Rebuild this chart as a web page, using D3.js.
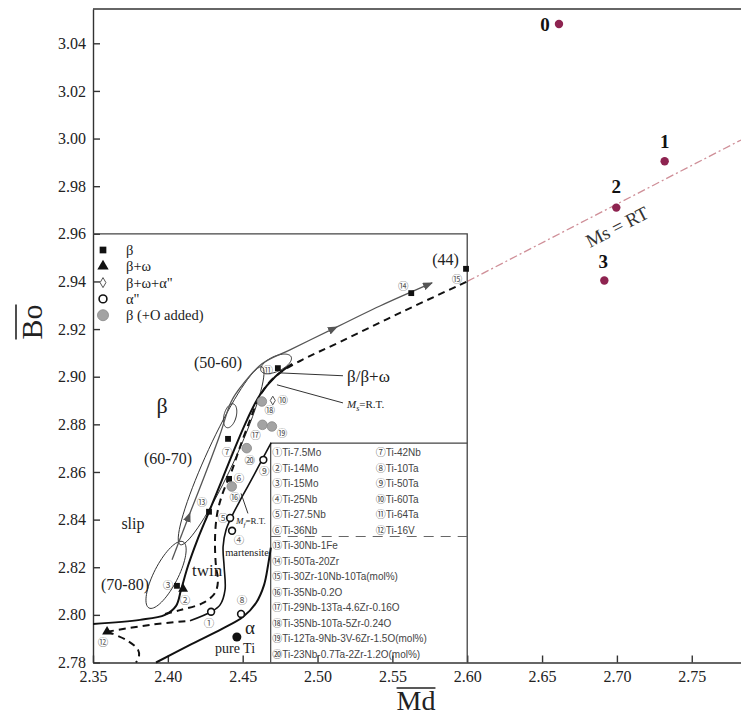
<!DOCTYPE html>
<html>
<head>
<meta charset="utf-8">
<script src="https://cdn.jsdelivr.net/npm/d3@7"></script>
<style>
  body { margin: 0; background: #fff; }
  svg text { font-family: "Liberation Serif", "Times New Roman", serif; }
  svg text.circ, svg tspan.circ { font-family: "Noto Sans CJK SC", "Noto Sans CJK JP", sans-serif; }
  svg tspan.sans { font-family: "Liberation Sans", Arial, sans-serif; }
</style>
</head>
<body>
<svg id="chart" width="741" height="717"></svg>
<script>
// ---- data (Md, Bo) ----
var xTicks = [2.35, 2.40, 2.45, 2.50, 2.55, 2.60, 2.65, 2.70, 2.75];
var yTicks = [2.78, 2.80, 2.82, 2.84, 2.86, 2.88, 2.90, 2.92, 2.94, 2.96, 2.98, 3.00, 3.02, 3.04];

// alloys of this work
var alloyIds = ['0', '1', '2', '3'];
var alloyMd = [2.6613, 2.7319, 2.6996, 2.6916];
var alloyBo = [3.0481, 2.9905, 2.9710, 2.9404];

// Ms = RT extension
var msExtMd = [2.600, 2.7829];
var msExtBo = [2.9400, 2.9994];

// inset (literature) alloys
var refIds = [1, 2, 3, 4, 5, 6, 7, 8, 9, 10, 11, 12, 13, 14, 15, 16, 17, 18, 19, 20];
var refType = ['ring', 'tri', 'sq', 'ring', 'ring', 'sq', 'sq', 'ring', 'ring', 'dia',
               'sq', 'tri', 'sq', 'sq', 'sq', 'gray', 'gray', 'gray', 'gray', 'gray'];
var refMd = [2.4289, 2.4102, 2.4061, 2.4429, 2.4416, 2.4409, 2.4402, 2.4489, 2.4638, 2.4701,
             2.4735, 2.3594, 2.4275, 2.5626, 2.5992, 2.4427, 2.4632, 2.4628, 2.4695, 2.4527];
var refBo = [2.8013, 2.8109, 2.8122, 2.8353, 2.8407, 2.8571, 2.8739, 2.8004, 2.8651, 2.8900,
             2.9036, 2.7929, 2.8433, 2.9351, 2.9453, 2.8539, 2.8798, 2.8896, 2.8791, 2.8700];
var refNames = ['Ti-7.5Mo', 'Ti-14Mo', 'Ti-15Mo', 'Ti-25Nb', 'Ti-27.5Nb', 'Ti-36Nb', 'Ti-42Nb',
                'Ti-10Ta', 'Ti-50Ta', 'Ti-60Ta', 'Ti-64Ta', 'Ti-16V', 'Ti-30Nb-1Fe', 'Ti-50Ta-20Zr',
                'Ti-30Zr-10Nb-10Ta(mol%)', 'Ti-35Nb-0.2O', 'Ti-29Nb-13Ta-4.6Zr-0.16O',
                'Ti-35Nb-10Ta-5Zr-0.24O', 'Ti-12Ta-9Nb-3V-6Zr-1.5O(mol%)', 'Ti-23Nb-0.7Ta-2Zr-1.2O(mol%)'];
var pureTi = [2.4461, 2.7907];

// boundary lines of the Bo-Md map
var slipTwinLine = [[2.350, 2.7962], [2.3814, 2.7979], [2.3981, 2.8000], [2.4055, 2.8038], [2.4088, 2.8105],
                    [2.4135, 2.8206], [2.4195, 2.8311], [2.4275, 2.8433], [2.4362, 2.8567], [2.4429, 2.8672],
                    [2.4529, 2.8819], [2.4616, 2.8924], [2.4717, 2.9000], [2.4830, 2.9054]];
var msLine = [[2.3981, 2.8004], [2.4081, 2.8020], [2.4235, 2.8050], [2.4315, 2.8092], [2.4335, 2.8146],
              [2.4322, 2.8201], [2.4315, 2.8314], [2.4328, 2.8419], [2.4362, 2.8503], [2.4429, 2.8608],
              [2.4482, 2.8705], [2.4549, 2.8818], [2.4602, 2.8902], [2.4662, 2.8965], [2.4749, 2.9016],
              [2.4883, 2.9066], [2.5150, 2.9146], [2.5551, 2.9268], [2.600, 2.9400]];
var v16Dash = [[2.3594, 2.7929], [2.3881, 2.7958], [2.4148, 2.7975]];
var v16Loop = [[2.3594, 2.7929], [2.3721, 2.7895], [2.3801, 2.7853], [2.3807, 2.7824], [2.3787, 2.7800]];
var mfLine = [[2.4148, 2.7975], [2.4289, 2.8013], [2.4349, 2.8042], [2.4382, 2.8105], [2.4376, 2.8202],
              [2.4369, 2.8286], [2.4389, 2.8357], [2.4429, 2.8416], [2.4496, 2.8496], [2.4576, 2.8588],
              [2.4636, 2.8659], [2.4690, 2.8722]];
var alphaLine = [[2.3921, 2.7800], [2.4148, 2.7874], [2.4362, 2.7941], [2.4503, 2.7992], [2.4590, 2.8051],
                 [2.4643, 2.8126], [2.4670, 2.8210], [2.4688, 2.8282]];
var trendLine = [[2.4028, 2.8231], [2.4148, 2.8428], [2.4248, 2.8588], [2.4348, 2.8756], [2.4422, 2.8894],
                 [2.4482, 2.8953], [2.4629, 2.9054], [2.4816, 2.9113], [2.5130, 2.9209], [2.5417, 2.9297],
                 [2.5765, 2.9394]];
var trendArrowAt = [1, 8, 10];

// modulus regions (GPa): centre, end of long axis, end of short axis
var regionCentre = [[2.3988, 2.8168], [2.4356, 2.8668], [2.4416, 2.8836], [2.4723, 2.9054]];
var regionMajor = [[2.4102, 2.8307], [2.4630, 2.9041], [2.4436, 2.8886], [2.4824, 2.9083]];
var regionMinor = [[2.4059, 2.8145], [2.4440, 2.8642], [2.4456, 2.8831], [2.4743, 2.9025]];

var annoText = ['β', 'slip', 'twin', '(70-80)', '(60-70)', '(50-60)', 'martensite', 'α', 'pure Ti', '(44)'];
var annoMd = [2.3961, 2.3767, 2.4262, 2.3714, 2.4001, 2.4335, 2.4529, 2.4549, 2.4449, 2.5855];
var annoBo = [2.8882, 2.8386, 2.8189, 2.8126, 2.8655, 2.9062, 2.8261, 2.7946, 2.7862, 2.9492];

var legendTypes = ['sq', 'tri', 'dia', 'ring', 'gray'];
var legendLabels = ['β', 'β+ω', 'β+ω+α"', 'α"', 'β (+O added)'];

// ---- layout ----
var annoSize = [22, 16, 17, 16, 16, 16, 10.5, 19, 14, 16];
var refLabelDx = [-2, 2, -9, 7, -7, 10, -1, 1, 1, 10, -10, -4, -7, -8, -9, 3, -7, 8, 10, 3];
var refLabelDy = [12, 11, 0, 10, 0, -1, 13, -14, 11, 0, 2, 11, -9, -7, 10, 11, 11, 9, 7, 12];
var alloyLabelDx = [-14, 0, 0, -1];
var alloyLabelDy = [0, -20, -21, -19];
var insetRight = 2.60, insetTop = 2.96;
var tableLeft = 2.4687, tableTop = 2.8721, tableSplit = 2.8329;

var svg = d3.select('#chart');
var x = d3.scaleLinear().domain([2.35, 2.7829]).range([93, 741]);
var y = d3.scaleLinear().domain([2.78, 3.0544]).range([662.5, 9]);

var smooth = d3.line().x(function(d) { return x(d[0]); }).y(function(d) { return y(d[1]); })
    .curve(d3.curveCatmullRom.alpha(0.5));
var straight = d3.line().x(function(d) { return x(d[0]); }).y(function(d) { return y(d[1]); });

function circled(n) { return String.fromCharCode(0x245F + n); }

svg.append('defs').append('marker')
    .attr('id', 'arrow').attr('viewBox', '0 0 10 8').attr('refX', 9).attr('refY', 4)
    .attr('markerWidth', 10).attr('markerHeight', 8).attr('markerUnits', 'userSpaceOnUse')
    .attr('orient', 'auto')
  .append('path').attr('d', 'M0,0L10,4L0,8Z').attr('fill', '#555');

// ---- axes & frame ----
var gy = svg.append('g').attr('transform', 'translate(' + x(2.35) + ',0)')
    .call(d3.axisLeft(y).tickValues(yTicks).tickFormat(d3.format('.2f'))
        .tickSizeInner(-7).tickSizeOuter(0).tickPadding(7));
var gx = svg.append('g').attr('transform', 'translate(0,' + y(2.78) + ')')
    .call(d3.axisBottom(x).tickValues(xTicks).tickFormat(d3.format('.2f'))
        .tickSizeInner(-7).tickSizeOuter(0).tickPadding(8));
[gx, gy].forEach(function(g) {
    g.attr('font-size', 16);
    g.selectAll('text').attr('fill', '#222')
        .style('font-family', '"Liberation Serif", "Times New Roman", serif');
    g.selectAll('.domain, .tick line').attr('stroke', '#333').attr('stroke-width', 1.4);
});
svg.append('line').attr('x1', x(2.35)).attr('x2', x.range()[1])
    .attr('y1', y.range()[1]).attr('y2', y.range()[1])
    .attr('stroke', '#333').attr('stroke-width', 1.6);

var boG = svg.append('g').attr('transform', 'translate(42,322) rotate(-90)');
var boT = boG.append('text').attr('text-anchor', 'middle').attr('font-size', 30).attr('fill', '#222').text('Bo');
var bb = boT.node().getBBox();
boG.append('line').attr('x1', bb.x).attr('x2', bb.x + bb.width).attr('y1', -26).attr('y2', -26)
    .attr('stroke', '#222').attr('stroke-width', 1.6);

var mdG = svg.append('g').attr('transform', 'translate(416,710)');
var mdT = mdG.append('text').attr('text-anchor', 'middle').attr('font-size', 28).attr('fill', '#222').text('Md');
bb = mdT.node().getBBox();
mdG.append('line').attr('x1', bb.x).attr('x2', bb.x + bb.width).attr('y1', -22).attr('y2', -22)
    .attr('stroke', '#222').attr('stroke-width', 1.6);

// ---- Ms = RT extension + this work ----
svg.append('path').attr('d', straight([[msExtMd[0], msExtBo[0]], [msExtMd[1], msExtBo[1]]]))
    .attr('fill', 'none').attr('stroke', '#cf8f98').attr('stroke-width', 1.3)
    .attr('stroke-dasharray', '8,3,2,3');
var ang = Math.atan2(y(msExtBo[1]) - y(msExtBo[0]), x(msExtMd[1]) - x(msExtMd[0])) * 180 / Math.PI;
svg.append('text')
    .attr('transform', 'translate(' + x(2.7000) + ',' + y(2.9630) + ') rotate(' + ang + ')')
    .attr('text-anchor', 'middle').attr('dy', '0.35em').attr('font-size', 19).attr('fill', '#333')
    .text('Ms = RT');

svg.selectAll('.alloy').data(alloyIds).enter().append('circle')
    .attr('class', 'alloy')
    .attr('cx', function(d, i) { return x(alloyMd[i]); })
    .attr('cy', function(d, i) { return y(alloyBo[i]); })
    .attr('r', 4.2).attr('fill', '#8e2350');
svg.selectAll('.alloy-label').data(alloyIds).enter().append('text')
    .attr('class', 'alloy-label')
    .attr('x', function(d, i) { return x(alloyMd[i]) + alloyLabelDx[i]; })
    .attr('y', function(d, i) { return y(alloyBo[i]) + alloyLabelDy[i]; })
    .attr('dy', '0.35em').attr('text-anchor', 'middle')
    .attr('font-size', 19).attr('font-weight', 'bold').attr('fill', '#111')
    .text(function(d) { return d; });

// ---- inset: Bo-Md map ----
var inset = svg.append('g');
inset.append('path')
    .attr('d', straight([[2.35, insetTop], [insetRight, insetTop], [insetRight, 2.78]]))
    .attr('fill', 'none').attr('stroke', '#444').attr('stroke-width', 1.3);
inset.append('path')
    .attr('d', straight([[tableLeft, 2.78], [tableLeft, tableTop], [insetRight, tableTop]]))
    .attr('fill', 'none').attr('stroke', '#444').attr('stroke-width', 1.2);
inset.append('path')
    .attr('d', straight([[tableLeft, tableSplit], [insetRight, tableSplit]]))
    .attr('stroke', '#666').attr('stroke-width', 1.2).attr('stroke-dasharray', '10,7');

// legend table
var leftIds = [1, 2, 3, 4, 5, 6, 13, 14, 15, 16, 17, 18, 19, 20];
var rightIds = [7, 8, 9, 10, 11, 12];
function tableRow(id, row, colX) {
    var t = inset.append('text').attr('x', colX).attr('y', y(tableTop) + 9.5 + row * 15.5)
        .attr('dy', '0.35em').attr('font-size', 10).attr('fill', '#444');
    t.append('tspan').attr('class', 'circ').attr('font-size', 10).text(circled(id));
    t.append('tspan').attr('class', 'sans').text(refNames[id - 1]);
}
leftIds.forEach(function(id, i) { tableRow(id, i, x(tableLeft) + 1.5); });
rightIds.forEach(function(id, i) { tableRow(id, i, x(tableLeft) + 105); });

// regions
regionCentre.forEach(function(c, i) {
    var cx = x(c[0]), cy = y(c[1]);
    var ax = x(regionMajor[i][0]) - cx, ay = y(regionMajor[i][1]) - cy;
    var bx = x(regionMinor[i][0]) - cx, by = y(regionMinor[i][1]) - cy;
    var pts = d3.range(0, 2 * Math.PI, Math.PI / 36).map(function(t) {
        return [cx + Math.cos(t) * ax + Math.sin(t) * bx, cy + Math.cos(t) * ay + Math.sin(t) * by];
    });
    inset.append('path').attr('d', d3.line().curve(d3.curveLinearClosed)(pts))
        .attr('fill', 'none').attr('stroke', '#333').attr('stroke-width', 1);
});

// boundary lines
inset.append('path').attr('d', smooth(slipTwinLine)).attr('fill', 'none')
    .attr('stroke', '#111').attr('stroke-width', 2);
inset.append('path').attr('d', smooth(alphaLine)).attr('fill', 'none')
    .attr('stroke', '#111').attr('stroke-width', 2);
inset.append('path').attr('d', smooth(mfLine)).attr('fill', 'none')
    .attr('stroke', '#111').attr('stroke-width', 1.6);
[msLine, v16Dash, v16Loop].forEach(function(line) {
    inset.append('path').attr('d', smooth(line)).attr('fill', 'none')
        .attr('stroke', '#111').attr('stroke-width', 2).attr('stroke-dasharray', '7,5');
});

// trend arrows
var start = 0;
trendArrowAt.forEach(function(end) {
    inset.append('path').attr('d', smooth(trendLine.slice(start, end + 1)))
        .attr('fill', 'none').attr('stroke', '#555').attr('stroke-width', 1.3)
        .attr('marker-end', 'url(#arrow)');
    start = end;
});

// pointers
function pointer(line) {
    inset.append('path').attr('d', straight(line)).attr('stroke', '#333').attr('stroke-width', 1);
}
pointer([[2.5170, 2.9004], [2.4749, 2.9016]]);
pointer([[2.5170, 2.8890], [2.4729, 2.8966]]);
pointer([[2.4535, 2.8426], [2.4489, 2.8510]]);
inset.append('text').attr('x', x(2.5197)).attr('y', y(2.8978)).attr('font-size', 17).attr('fill', '#222')
    .text('β/β+ω');
var msT = inset.append('text').attr('x', x(2.5197)).attr('y', y(2.8868)).attr('font-size', 11).attr('fill', '#222');
msT.append('tspan').attr('font-style', 'italic').text('M');
msT.append('tspan').attr('font-style', 'italic').attr('font-size', 8).attr('dy', 3).text('s');
msT.append('tspan').attr('dy', -3).text('=R.T.');
var mfT = inset.append('text').attr('x', x(2.4455)).attr('y', y(2.8381)).attr('font-size', 9).attr('fill', '#222');
mfT.append('tspan').attr('font-style', 'italic').text('M');
mfT.append('tspan').attr('font-style', 'italic').attr('font-size', 7).attr('dy', 2.5).text('f');
mfT.append('tspan').attr('dy', -2.5).text('=R.T.');

// markers
function marker(g, type, cx, cy, k) {
    if (type === 'ring') {
        return g.append('circle').attr('cx', cx).attr('cy', cy).attr('r', 3.4 * k)
            .attr('fill', '#fff').attr('stroke', '#111').attr('stroke-width', 1.6);
    }
    if (type === 'gray') {
        return g.append('circle').attr('cx', cx).attr('cy', cy).attr('r', 4.8 * k)
            .attr('fill', '#a3a3a3').attr('stroke', '#888').attr('stroke-width', 0.8);
    }
    var sym = { sq: d3.symbolSquare, tri: d3.symbolTriangle, dia: d3.symbolDiamond }[type];
    var area = { sq: 34, tri: 42, dia: 22 }[type];
    return g.append('path').attr('d', d3.symbol(sym, area * k * k)())
        .attr('transform', 'translate(' + cx + ',' + cy + ')')
        .attr('fill', type === 'dia' ? '#fff' : '#111')
        .attr('stroke', type === 'dia' ? '#555' : 'none');
}
refIds.forEach(function(id, i) {
    marker(inset, refType[i], x(refMd[i]), y(refBo[i]), 1);
    inset.append('text').attr('class', 'circ')
        .attr('x', x(refMd[i]) + refLabelDx[i]).attr('y', y(refBo[i]) + refLabelDy[i])
        .attr('dy', '0.35em').attr('text-anchor', 'middle')
        .attr('font-size', 10.5).attr('fill', '#555')
        .text(circled(id));
});
inset.append('circle').attr('cx', x(pureTi[0])).attr('cy', y(pureTi[1])).attr('r', 4.5).attr('fill', '#111');

annoText.forEach(function(t, i) {
    inset.append('text').attr('x', x(annoMd[i])).attr('y', y(annoBo[i])).attr('dy', '0.35em')
        .attr('text-anchor', 'middle').attr('font-size', annoSize[i]).attr('fill', '#222').text(t);
});

// legend
legendTypes.forEach(function(t, i) {
    var ly = 250 + i * 16.3;
    marker(inset, t, 103, ly, 1.15);
    inset.append('text').attr('x', 126).attr('y', ly).attr('dy', '0.35em')
        .attr('font-size', 14.5).attr('fill', '#222').text(legendLabels[i]);
});
</script>
</body>
</html>
